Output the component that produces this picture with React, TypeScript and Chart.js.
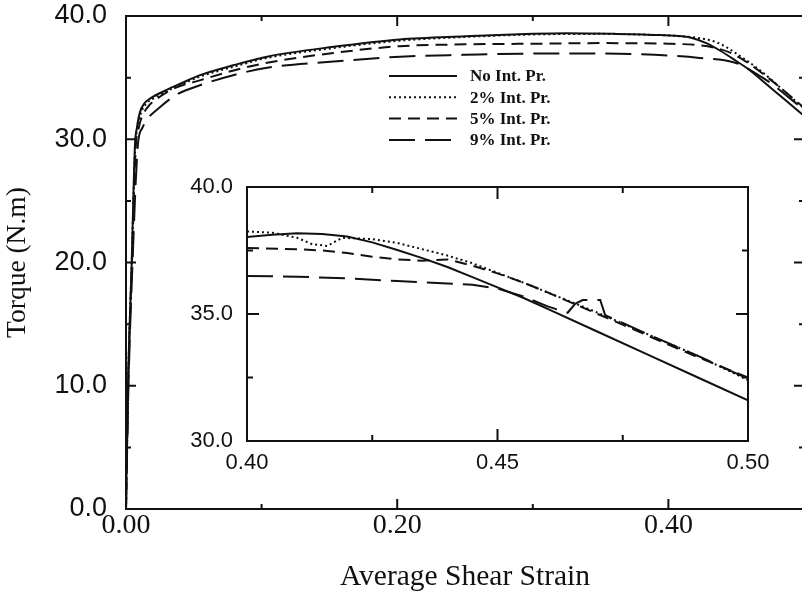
import React, { useEffect, useRef } from "react";
import { Chart, registerables } from "chart.js";

Chart.register(...registerables);

const INK = "#111111";

// ---------- legend / series names ----------
const seriesLabels = ["No Int. Pr.", "2% Int. Pr.", "5% Int. Pr.", "9% Int. Pr."];
const seriesDashes = [[], [2, 3], [12, 7], [26, 10]];

// ---------- main chart data (Average Shear Strain vs Torque) ----------
const mainNoStrain = [0, 0.0015, 0.0042, 0.0066, 0.008, 0.0103, 0.0135, 0.0177, 0.03, 0.04, 0.0546, 0.079, 0.104, 0.153, 0.202, 0.25, 0.3, 0.325, 0.36, 0.394, 0.41, 0.418, 0.428, 0.438, 0.45, 0.46, 0.473, 0.486, 0.5];
const mainNoTorque = [0, 10, 20, 29.5, 30.9, 32.2, 32.9, 33.3, 34.0, 34.5, 35.2, 36.0, 36.7, 37.5, 38.1, 38.35, 38.55, 38.6, 38.55, 38.45, 38.35, 38.2, 37.8, 37.2, 36.35, 35.6, 34.4, 33.2, 31.9];

const main2Strain = [0, 0.0015, 0.0042, 0.0068, 0.0085, 0.011, 0.015, 0.02, 0.03, 0.04, 0.055, 0.08, 0.104, 0.153, 0.202, 0.25, 0.3, 0.35, 0.394, 0.41, 0.42, 0.43, 0.438, 0.448, 0.4675, 0.485, 0.5];
const main2Torque = [0, 10, 20, 29.4, 30.9, 32.1, 32.9, 33.3, 33.9, 34.4, 35.1, 35.9, 36.6, 37.4, 38.0, 38.3, 38.5, 38.55, 38.45, 38.35, 38.25, 38.05, 37.75, 37.1, 35.6, 33.95, 32.5];

const main5Strain = [0, 0.0016, 0.0044, 0.0072, 0.009, 0.011, 0.016, 0.023, 0.035, 0.055, 0.08, 0.104, 0.153, 0.202, 0.25, 0.3, 0.35, 0.4, 0.42, 0.435, 0.448, 0.4675, 0.485, 0.5];
const main5Torque = [0, 10, 20, 29.4, 30.7, 31.6, 32.6, 33.3, 34.1, 34.8, 35.6, 36.2, 37.0, 37.55, 37.7, 37.75, 37.8, 37.75, 37.65, 37.4, 36.9, 35.5, 33.95, 32.55];

const main9Strain = [0, 0.0018, 0.0048, 0.0088, 0.012, 0.0155, 0.025, 0.037, 0.055, 0.079, 0.104, 0.153, 0.202, 0.25, 0.3, 0.35, 0.39, 0.423, 0.448, 0.456, 0.465, 0.475, 0.487, 0.5];
const main9Torque = [0, 10, 20, 29.6, 30.9, 31.6, 32.6, 33.6, 34.4, 35.2, 35.8, 36.3, 36.7, 36.85, 36.95, 36.95, 36.85, 36.6, 36.25, 35.9, 35.3, 34.6, 33.55, 32.4];

// ---------- inset data (0.40 - 0.50) ----------
const insetNoStrain = [0.4, 0.405, 0.41, 0.415, 0.42, 0.425, 0.43, 0.435, 0.44, 0.445, 0.45, 0.455, 0.46, 0.47, 0.48, 0.49, 0.5];
const insetNoTorque = [38.03, 38.12, 38.18, 38.15, 38.05, 37.82, 37.52, 37.2, 36.85, 36.45, 36.05, 35.65, 35.2, 34.3, 33.4, 32.5, 31.6];

const inset2Strain = [0.4, 0.405, 0.41, 0.413, 0.416, 0.419, 0.425, 0.43, 0.435, 0.44, 0.445, 0.45, 0.455, 0.46, 0.47, 0.48, 0.49, 0.5];
const inset2Torque = [38.25, 38.2, 38.0, 37.75, 37.68, 38.0, 37.95, 37.8, 37.55, 37.3, 37.0, 36.62, 36.25, 35.85, 35.05, 34.2, 33.35, 32.4];

const inset5Strain = [0.4, 0.41, 0.415, 0.42, 0.425, 0.43, 0.435, 0.44, 0.445, 0.45, 0.455, 0.46, 0.47, 0.48, 0.49, 0.5];
const inset5Torque = [37.6, 37.55, 37.5, 37.4, 37.25, 37.15, 37.1, 37.15, 36.9, 36.6, 36.25, 35.85, 35.0, 34.15, 33.3, 32.5];

const inset9Strain = [0.4, 0.41, 0.42, 0.43, 0.44, 0.445, 0.45, 0.455, 0.46, 0.464, 0.4655, 0.467, 0.4705, 0.4715, 0.475, 0.48, 0.49, 0.5];
const inset9Torque = [36.5, 36.47, 36.4, 36.3, 36.2, 36.15, 36.0, 35.7, 35.3, 35.05, 35.4, 35.55, 35.55, 34.95, 34.65, 34.2, 33.35, 32.45];

// ---------- axis ranges / ticks ----------
const mainXRange = [0, 0.5];
const mainXStep = 0.1;
const mainYRange = [0, 40];
const mainYStep = 5;
const insetXRange = [0.4, 0.5];
const insetXStep = 0.025;
const insetYRange = [30, 40];
const insetYStep = 2.5;

const near = (a: number, b: number) => Math.abs(a - b) < 1e-6;
const isMajorMainX = (v: number) => near(v * 10, 2 * Math.round(v * 5));
const isMajorMainY = (v: number) => near(v / 10, Math.round(v / 10));
const isMajorInsetX = (v: number) => near(v * 20, Math.round(v * 20));
const isMajorInsetY = (v: number) => near(v / 5, Math.round(v / 5));

function pts(xs: number[], ys: number[]) {
  return xs.map((x, i) => ({ x, y: ys[i] }));
}

function makeDatasets(series: [number[], number[]][], smooth: boolean) {
  return series.map((s, i) => ({
    label: seriesLabels[i],
    data: pts(s[0], s[1]),
    borderColor: INK,
    backgroundColor: INK,
    borderWidth: 2,
    borderDash: seriesDashes[i],
    pointRadius: 0,
    fill: false,
    ...(smooth ? { cubicInterpolationMode: "monotone" as const } : { tension: 0 }),
  }));
}

function framePlugin(isMajorX: (v: number) => boolean, isMajorY: (v: number) => boolean, major: number, minor: number) {
  return {
    id: "frameTicks",
    afterDatasetsDraw(chart: any) {
      const { ctx, chartArea: a, scales } = chart;
      ctx.save();
      ctx.strokeStyle = INK;
      ctx.lineWidth = 2;
      ctx.setLineDash([]);
      ctx.strokeRect(a.left, a.top, a.right - a.left, a.bottom - a.top);
      ctx.beginPath();
      const xs = scales.x;
      const ys = scales.y;
      xs.ticks.forEach((t: any) => {
        const p = xs.getPixelForValue(t.value);
        const len = isMajorX(t.value) ? major : minor;
        ctx.moveTo(p, a.bottom);
        ctx.lineTo(p, a.bottom - len);
        ctx.moveTo(p, a.top);
        ctx.lineTo(p, a.top + len);
      });
      ys.ticks.forEach((t: any) => {
        const p = ys.getPixelForValue(t.value);
        const len = isMajorY(t.value) ? major : minor;
        ctx.moveTo(a.left, p);
        ctx.lineTo(a.left + len, p);
        ctx.moveTo(a.right, p);
        ctx.lineTo(a.right - len, p);
      });
      ctx.stroke();
      ctx.restore();
    },
  };
}

const legendPlugin = {
  id: "innerLegend",
  afterDatasetsDraw(chart: any) {
    const { ctx } = chart;
    ctx.save();
    chart.data.datasets.forEach((ds: any, i: number) => {
      const y = 76 + i * 21.3;
      ctx.strokeStyle = INK;
      ctx.lineWidth = 2;
      ctx.setLineDash(ds.borderDash || []);
      ctx.beginPath();
      ctx.moveTo(389, y);
      ctx.lineTo(457, y);
      ctx.stroke();
      ctx.setLineDash([]);
      ctx.fillStyle = INK;
      ctx.font = "bold 17px 'Liberation Serif'";
      ctx.textAlign = "left";
      ctx.textBaseline = "middle";
      ctx.fillText(ds.label, 470, y + 1);
    });
    ctx.restore();
  },
};

const fitX = (h: number) => (s: any) => {
  s.height = h;
  s.paddingLeft = 0;
  s.paddingRight = 0;
};
const fitY = (w: number) => (s: any) => {
  s.width = w;
  s.paddingTop = 0;
  s.paddingBottom = 0;
};

export default function App() {
  const mainRef = useRef<HTMLCanvasElement | null>(null);
  const insetRef = useRef<HTMLCanvasElement | null>(null);

  useEffect(() => {
    if (!mainRef.current || !insetRef.current) return;

    const mainChart = new Chart(mainRef.current, {
      type: "line",
      data: {
        datasets: makeDatasets(
          [
            [mainNoStrain, mainNoTorque],
            [main2Strain, main2Torque],
            [main5Strain, main5Torque],
            [main9Strain, main9Torque],
          ],
          true
        ) as any,
      },
      options: {
        responsive: false,
        animation: false,
        devicePixelRatio: 1,
        layout: { padding: { left: 0, top: 16, right: 11, bottom: 0 } },
        plugins: { legend: { display: false }, tooltip: { enabled: false } },
        scales: {
          x: {
            type: "linear",
            min: mainXRange[0],
            max: mainXRange[1],
            grid: { display: false, drawTicks: false },
            border: { display: false },
            ticks: {
              stepSize: mainXStep,
              autoSkip: false,
              maxRotation: 0,
              padding: 0,
              color: INK,
              font: { family: "'Liberation Serif'", size: 28 },
              callback: (v: any) => (isMajorMainX(Number(v)) ? Number(v).toFixed(2) : ""),
            },
            title: {
              display: true,
              text: "Average Shear Strain",
              color: INK,
              font: { family: "'Liberation Serif'", size: 29.5 },
              padding: { top: 0, bottom: 0 },
            },
            afterFit: fitX(86),
          },
          y: {
            type: "linear",
            min: mainYRange[0],
            max: mainYRange[1],
            grid: { display: false, drawTicks: false },
            border: { display: false },
            ticks: {
              stepSize: mainYStep,
              autoSkip: false,
              padding: 19,
              color: INK,
              font: { family: "'Liberation Sans'", size: 27 },
              callback: (v: any) => (isMajorMainY(Number(v)) ? Number(v).toFixed(1) : ""),
            },
            title: {
              display: true,
              text: "Torque (N.m)",
              color: INK,
              font: { family: "'Liberation Serif'", size: 27.5 },
              padding: { top: 1.5, bottom: 0 },
            },
            afterFit: fitY(126),
          },
        },
      } as any,
      plugins: [framePlugin(isMajorMainX, isMajorMainY, 10, 5), legendPlugin],
    });

    const insetChart = new Chart(insetRef.current, {
      type: "line",
      data: {
        datasets: makeDatasets(
          [
            [insetNoStrain, insetNoTorque],
            [inset2Strain, inset2Torque],
            [inset5Strain, inset5Torque],
            [inset9Strain, inset9Torque],
          ],
          false
        ) as any,
      },
      options: {
        responsive: false,
        animation: false,
        devicePixelRatio: 1,
        layout: { padding: { left: 0, top: 17, right: 22, bottom: 0 } },
        plugins: { legend: { display: false }, tooltip: { enabled: false } },
        scales: {
          x: {
            type: "linear",
            min: insetXRange[0],
            max: insetXRange[1],
            grid: { display: false, drawTicks: false },
            border: { display: false },
            ticks: {
              stepSize: insetXStep,
              autoSkip: false,
              maxRotation: 0,
              padding: 9,
              color: INK,
              font: { family: "'Liberation Sans'", size: 22 },
              callback: (v: any) => (isMajorInsetX(Number(v)) ? Number(v).toFixed(2) : ""),
            },
            afterFit: fitX(39),
          },
          y: {
            type: "linear",
            min: insetYRange[0],
            max: insetYRange[1],
            grid: { display: false, drawTicks: false },
            border: { display: false },
            ticks: {
              stepSize: insetYStep,
              autoSkip: false,
              padding: 14,
              color: INK,
              font: { family: "'Liberation Sans'", size: 22 },
              callback: (v: any) => (isMajorInsetY(Number(v)) ? Number(v).toFixed(1) : ""),
            },
            afterFit: fitY(97),
          },
        },
      } as any,
      plugins: [framePlugin(isMajorInsetX, isMajorInsetY, 12, 6)],
    });

    return () => {
      mainChart.destroy();
      insetChart.destroy();
    };
  }, []);

  return (
    <div
      style={{
        position: "fixed",
        left: 0,
        top: 0,
        width: 802,
        height: 595,
        overflow: "hidden",
        background: "#ffffff",
      }}
    >
      <canvas
        ref={mainRef}
        width={815}
        height={595}
        style={{ position: "absolute", left: 0, top: 0, width: 815, height: 595 }}
      />
      <canvas
        ref={insetRef}
        width={620}
        height={310}
        style={{ position: "absolute", left: 150, top: 170, width: 620, height: 310 }}
      />
    </div>
  );
}
